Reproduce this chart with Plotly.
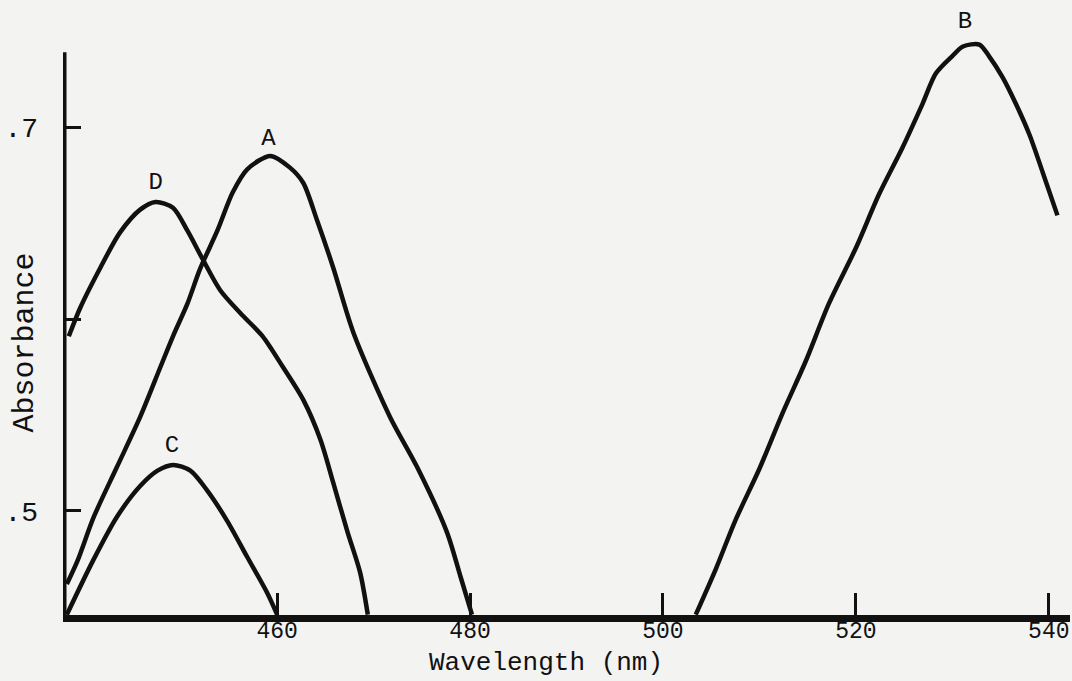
import plotly.graph_objects as go

# Curve data (wavelength nm, absorbance)
d_x = [438.4, 439.6, 441.7, 443.7, 445.8, 447.4, 449.2, 450.7, 452.3, 454.1, 456.2, 458.5, 460.6, 462.7, 464.5, 465.8, 467.3, 468.6, 469.4]
d_y = [0.591, 0.606, 0.627, 0.645, 0.657, 0.661, 0.658, 0.646, 0.631, 0.615, 0.603, 0.591, 0.575, 0.558, 0.537, 0.515, 0.489, 0.468, 0.446]

a_x = [438.2, 439.3, 441.0, 443.4, 445.8, 447.9, 449.2, 450.7, 452.0, 453.8, 455.4, 456.9, 459.3, 461.3, 462.7, 464.1, 465.8, 467.9, 471.7, 474.5, 477.6, 479.0, 480.2]
a_y = [0.462, 0.474, 0.497, 0.523, 0.549, 0.575, 0.591, 0.608, 0.626, 0.646, 0.666, 0.678, 0.685, 0.679, 0.671, 0.652, 0.627, 0.593, 0.549, 0.523, 0.489, 0.466, 0.446]

c_x = [438.2, 440.9, 443.4, 445.8, 447.6, 449.2, 451.0, 452.7, 454.8, 456.9, 459.0, 460.0]
c_y = [0.446, 0.474, 0.497, 0.513, 0.521, 0.524, 0.521, 0.511, 0.495, 0.476, 0.457, 0.446]

b_x = [503.4, 505.5, 507.5, 510.0, 512.4, 514.8, 517.2, 520.0, 522.4, 524.8, 526.9, 528.3, 530.0, 531.1, 532.8, 533.8, 535.2, 536.6, 538.0, 539.4, 540.9]
b_y = [0.446, 0.470, 0.495, 0.522, 0.551, 0.578, 0.608, 0.637, 0.665, 0.689, 0.712, 0.728, 0.737, 0.742, 0.743, 0.737, 0.726, 0.712, 0.696, 0.676, 0.654]

curve_labels = ["A", "B", "C", "D"]
label_x = [459.1, 531.3, 449.1, 447.4]
label_y = [0.694, 0.755, 0.534, 0.671]

x_ticks = [460, 480, 500, 520, 540]
y_ticks = [0.5, 0.6, 0.7]
y_ticktext = [".5", "", ".7"]

X_MIN, X_MAX = 437.8, 542.2
Y_MIN, Y_MAX = 0.4458, 0.761
Y_AXIS_TOP = 0.739

FONT = "Liberation Mono"
INK = "#111111"
PAPER = "#f3f3f1"

fig = go.Figure()
for xs, ys in [(d_x, d_y), (a_x, a_y), (c_x, c_y), (b_x, b_y)]:
    fig.add_trace(go.Scatter(x=xs, y=ys, mode="lines",
                             line=dict(color=INK, width=4.5, shape="spline", smoothing=0.8),
                             showlegend=False, hoverinfo="skip"))

fig.add_trace(go.Scatter(x=label_x, y=label_y, mode="text", text=curve_labels,
                         textfont=dict(family=FONT, size=24, color=INK),
                         showlegend=False, hoverinfo="skip"))

# y-axis line (stops below top of plot)
fig.add_shape(type="line", xref="x", yref="y", x0=X_MIN, x1=X_MIN, y0=Y_MIN, y1=Y_AXIS_TOP,
              line=dict(color=INK, width=7))

fig.update_layout(
    width=1072, height=681,
    margin=dict(l=63, r=2, t=10, b=66),
    paper_bgcolor=PAPER, plot_bgcolor=PAPER,
    font=dict(family=FONT, color=INK),
    xaxis=dict(range=[X_MIN, X_MAX], tickvals=x_ticks, ticktext=[str(v) for v in x_ticks],
               ticks="inside", ticklen=22, tickwidth=2.5, tickcolor=INK,
               showline=True, linewidth=7, linecolor=INK, mirror=False,
               showgrid=False, zeroline=False, ticklabelstandoff=-12,
               ticklabeloverflow="allow",
               tickfont=dict(family=FONT, size=23, color=INK)),
    yaxis=dict(range=[Y_MIN, Y_MAX], tickvals=y_ticks, ticktext=y_ticktext,
               ticks="inside", ticklen=18, tickwidth=3, tickcolor=INK,
               showline=False, showgrid=False, zeroline=False,
               ticklabelstandoff=24,
               tickfont=dict(family=FONT, size=28, color=INK)),
    annotations=[
        dict(text="Absorbance", xref="paper", yref="paper", x=-0.038, y=0.45,
             textangle=-90, showarrow=False, xanchor="center", yanchor="middle",
             font=dict(family=FONT, size=30, color=INK)),
        dict(text="Wavelength (nm)", xref="paper", yref="paper", x=0.48, y=-0.080,
             showarrow=False, xanchor="center", yanchor="middle",
             font=dict(family=FONT, size=26, color=INK)),
    ],
)

fig.write_html("out.html", config={"displayModeBar": False},
               post_script="document.body.style.margin='0';document.body.style.padding='0';")
